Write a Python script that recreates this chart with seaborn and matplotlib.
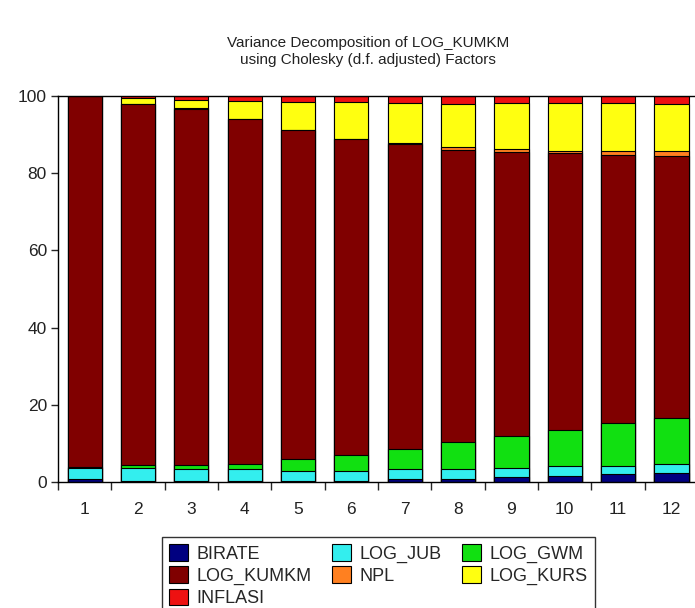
import numpy as np
import pandas as pd
import matplotlib
matplotlib.use('Agg')
import matplotlib.pyplot as plt
import seaborn as sns
from matplotlib.patches import Patch

# periods and variance shares (%)
periods = ['1', '2', '3', '4', '5', '6', '7', '8', '9', '10', '11', '12']
birate = [0.8, 0.3, 0.3, 0.3, 0.3, 0.4, 0.7, 0.85, 1.4, 1.6, 2.0, 2.3]
log_jub = [2.9, 3.4, 3.2, 3.15, 2.7, 2.45, 2.6, 2.6, 2.3, 2.55, 2.15, 2.3]
log_gwm = [0.1, 0.8, 0.9, 1.25, 2.9, 4.15, 5.2, 6.95, 8.2, 9.45, 11.05, 12.1]
log_kumkm = [96.1, 93.5, 92.3, 89.3, 85.2, 81.8, 79.1, 75.6, 73.6, 71.55, 69.5, 67.9]
npl = [0.0, 0.05, 0.1, 0.1, 0.1, 0.1, 0.2, 0.85, 0.7, 0.6, 1.0, 1.1]
log_kurs = [0.05, 1.5, 2.3, 4.6, 7.2, 9.5, 10.3, 11.2, 11.9, 12.35, 12.4, 12.3]
inflasi = [0.05, 0.45, 0.9, 1.2, 1.6, 1.6, 1.9, 1.9, 1.9, 1.9, 1.9, 1.9]

names = ['BIRATE', 'LOG_JUB', 'LOG_GWM', 'LOG_KUMKM', 'NPL', 'LOG_KURS', 'INFLASI']
colors = ['#000080', '#33eeee', '#11e011', '#800000', '#ff8020', '#ffff10', '#ee1111']

df = pd.DataFrame({'period': periods, 'BIRATE': birate, 'LOG_JUB': log_jub,
                   'LOG_GWM': log_gwm, 'LOG_KUMKM': log_kumkm, 'NPL': npl,
                   'LOG_KURS': log_kurs, 'INFLASI': inflasi})
cum = df[names].cumsum(axis=1)
cum['period'] = df['period']

sns.set_style('white')
plt.rcParams['font.family'] = ['Liberation Sans', 'DejaVu Sans']

fig = plt.figure(figsize=(6.95, 6.08), dpi=100)
ax = fig.add_axes([0.0835, 0.207, 0.921, 0.635])

# overlay cumulative bars, tallest first
for name, col in zip(names[::-1], colors[::-1]):
    sns.barplot(data=cum, x='period', y=name, color=col, width=0.64,
                edgecolor='black', linewidth=0.8, saturation=1, ax=ax)

ax.set_xlim(-0.5, 11.5)
ax.set_ylim(0, 100)
ax.set_xticks(np.arange(-0.5, 12, 1))
ax.set_xticklabels([])
ax.set_xticks(np.arange(12), minor=True)
ax.set_xticklabels(periods, minor=True, fontsize=12.5, color='#222222')
ax.tick_params(axis='x', which='major', direction='out', length=6, width=1, bottom=True)
ax.tick_params(axis='x', which='minor', length=0, pad=14)
ax.set_yticks([0, 20, 40, 60, 80, 100])
ax.tick_params(axis='y', direction='out', length=5, width=1, left=True, labelsize=12.5,
               labelcolor='#222222', pad=3)
ax.set_xlabel('')
ax.set_ylabel('')
for s in ax.spines.values():
    s.set_color('black')
    s.set_linewidth(1)

fig.text(0.53, 0.915, 'Variance Decomposition of LOG_KUMKM\nusing Cholesky (d.f. adjusted) Factors',
         ha='center', va='center', fontsize=11, color='#222222', linespacing=1.3)

# legend filled row by row like the reference (matplotlib fills by column)
order = [0, 3, 6, 1, 4, 2, 5]
handles = [Patch(facecolor=colors[i], edgecolor='black', linewidth=0.8) for i in order]
fig.legend(handles, [names[i] for i in order], ncol=3, loc='upper left',
           bbox_to_anchor=(0.233, 0.117), borderaxespad=0, frameon=True, fancybox=False,
           edgecolor='black', fontsize=13, handlelength=1.05, handleheight=1.05,
           handletextpad=0.45, columnspacing=1.15, labelspacing=0.2, borderpad=0.4)

fig.savefig('out.png', dpi=100)
